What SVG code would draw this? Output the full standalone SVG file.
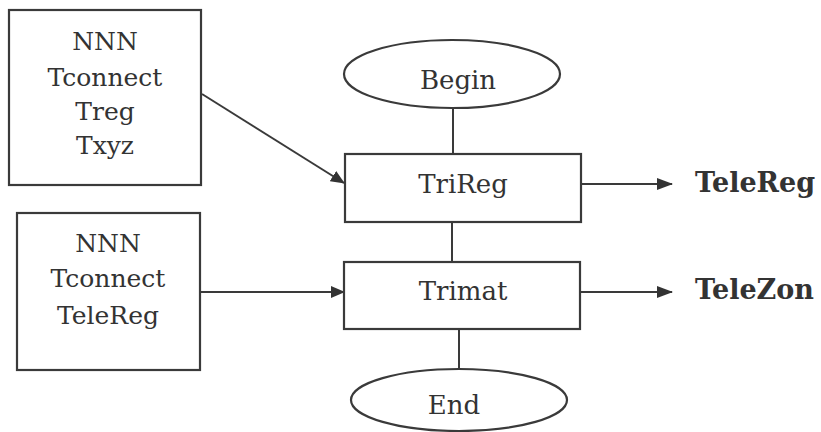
<svg xmlns="http://www.w3.org/2000/svg" width="821" height="432" viewBox="0 0 821 432">
<defs>
<style>
.box{fill:#fff;stroke:#3a3a3a;stroke-width:2.2}
.ln{fill:none;stroke:#3a3a3a;stroke-width:2}
.t{font-family:"DejaVu Serif","Liberation Serif",serif;font-size:25px;fill:#333;text-anchor:middle}
.c{font-size:26px}
.b{font-family:"DejaVu Serif","Liberation Serif",serif;font-size:27px;font-weight:bold;fill:#333}
</style>
<marker id="ah" markerWidth="16" markerHeight="12" refX="15" refY="6" orient="auto" markerUnits="userSpaceOnUse">
<path d="M0,0 L16,6 L0,12 Z" fill="#333"/>
</marker>
<marker id="as" markerWidth="14" markerHeight="12" refX="13" refY="6" orient="auto" markerUnits="userSpaceOnUse">
<path d="M0,0 L14,6 L0,12 Z" fill="#333"/>
</marker>
</defs>
<rect width="821" height="432" fill="#fff"/>
<g id="connectors">
<line class="ln" x1="453" y1="108" x2="453" y2="154"/>
<line class="ln" x1="452" y1="222" x2="452" y2="262"/>
<line class="ln" x1="459" y1="329" x2="459" y2="368"/>
<line class="ln" x1="202" y1="94" x2="344" y2="183" marker-end="url(#as)"/>
<line class="ln" x1="201" y1="292" x2="344" y2="292" marker-end="url(#as)"/>
<line class="ln" x1="581" y1="184" x2="672" y2="184" marker-end="url(#ah)"/>
<line class="ln" x1="580" y1="292" x2="672" y2="292" marker-end="url(#ah)"/>
</g>
<g id="input1">
<rect class="box" x="9" y="10" width="192" height="175"/>
<text class="t" x="105" y="50">NNN</text>
<text class="t" x="105" y="86">Tconnect</text>
<text class="t" x="105" y="120">Treg</text>
<text class="t" x="105" y="154">Txyz</text>
</g>
<g id="input2">
<rect class="box" x="17" y="213" width="183" height="157"/>
<text class="t" x="108" y="252">NNN</text>
<text class="t" x="108" y="287">Tconnect</text>
<text class="t" x="108" y="324">TeleReg</text>
</g>
<g id="begin">
<ellipse class="box" cx="452" cy="74" rx="108" ry="34"/>
<text class="t c" x="458" y="89">Begin</text>
</g>
<g id="trireg">
<rect class="box" x="345" y="154" width="236" height="68"/>
<text class="t c" x="463" y="193">TriReg</text>
</g>
<g id="trimat">
<rect class="box" x="344" y="262" width="236" height="67"/>
<text class="t c" x="463" y="300">Trimat</text>
</g>
<g id="end">
<ellipse class="box" cx="459" cy="400" rx="108" ry="31"/>
<text class="t c" x="454" y="414">End</text>
</g>
<g id="telereg">
<text class="b" x="695" y="192">TeleReg</text>
</g>
<g id="telezon">
<text class="b" x="695" y="299">TeleZon</text>
</g>
</svg>
